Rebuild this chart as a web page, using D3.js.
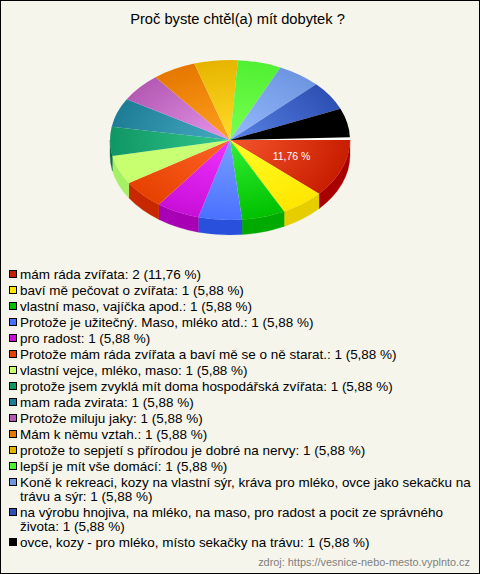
<html>

<head>
    <meta charset="utf-8">
    <title>Proč byste chtěl(a) mít dobytek ?</title>
    <style>
        html, body { margin: 0; padding: 0; background: #f5f5ec; }
        svg { display: block; }
        text { font-family: "Liberation Sans", Arial, sans-serif; }
    </style>
    <script src="https://d3js.org/d3.v7.min.js"></script>
</head>

<body>
    <script>
        var title = "Proč byste chtěl(a) mít dobytek ?";
        var source = "zdroj: https://vesnice-nebo-mesto.vyplnto.cz";

        var categories = [
            "mám ráda zvířata",
            "baví mě pečovat o zvířata",
            "vlastní maso, vajíčka apod.",
            "Protože je užitečný. Maso, mléko atd.",
            "pro radost",
            "Protože mám ráda zvířata a baví mě se o ně starat.",
            "vlastní vejce, mléko, maso",
            "protože jsem zvyklá mít doma hospodářská zvířata",
            "mam rada zvirata",
            "Protože miluju jaky",
            "Mám k němu vztah.",
            "protože to sepjetí s přírodou je dobré na nervy",
            "lepší je mít vše domácí",
            "Koně k rekreaci, kozy na vlastní sýr, kráva pro mléko, ovce jako sekačku na trávu a sýr",
            "na výrobu hnojiva, na mléko, na maso, pro radost a pocit ze správného života",
            "ovce, kozy - pro mléko, místo sekačky na trávu"
        ];
        var counts = [2, 1, 1, 1, 1, 1, 1, 1, 1, 1, 1, 1, 1, 1, 1, 1];
        var percents = ["11,76", "5,88", "5,88", "5,88", "5,88", "5,88", "5,88", "5,88", "5,88", "5,88", "5,88", "5,88", "5,88", "5,88", "5,88", "5,88"];

        // barvy: okraj, stred, bok
        var colors = ["#c81e00", "#ffe600", "#00c000", "#4a70ff", "#c80fd8", "#e64100", "#c8ff6e", "#0f9664", "#1e7d96", "#b45ab4", "#e67800", "#e6b400", "#50f032", "#6e96e0", "#2d50b4", "#000000"];
        var inner = ["#f5552d", "#ffff28", "#32f032", "#78a0ff", "#f032ff", "#ff6428", "#c8ff78", "#32c88c", "#46aac3", "#e696eb", "#ffa01e", "#ffdc28", "#78ff50", "#96b9ff", "#5a82e6", "#000000"];
        var walls = ["#a80000", "#e6cd00", "#00aa00", "#2850dc", "#a800b4", "#c82800", "#a5f064", "#0a6e46", "#145a6e", "#8c408c", "#b45a00", "#b48c00", "#3cb424", "#5078b4", "#1e3c8c", "#000000"];

        var width = 480, height = 574;
        var cx = 230, cy = 140, rx = 120, ry = 80, depth = 15;
        var sweep = 358 * Math.PI / 180;

        var svg = d3.select("body").append("svg")
            .attr("width", width)
            .attr("height", height);

        // ramecek
        svg.append("rect")
            .attr("x", 0.5).attr("y", 0.5)
            .attr("width", width - 1).attr("height", height - 1)
            .attr("fill", "#f5f5ec")
            .attr("stroke", "#000");

        svg.append("text")
            .attr("x", 237.5).attr("y", 24)
            .attr("text-anchor", "middle")
            .attr("font-size", 14.7)
            .attr("fill", "#000")
            .text(title);

        // d3.arc ma nulu nahore, kolac zacina na 3 hodinach
        var pie = d3.pie().sort(null)
            .startAngle(Math.PI / 2)
            .endAngle(Math.PI / 2 + sweep);
        var piedata = pie(counts);

        var defs = svg.append("defs");
        colors.forEach(function (c, i) {
            var g = defs.append("radialGradient")
                .attr("id", "grad" + i)
                .attr("gradientUnits", "userSpaceOnUse")
                .attr("cx", 0).attr("cy", 0).attr("r", rx);
            g.append("stop").attr("offset", "0%").attr("stop-color", inner[i]);
            g.append("stop").attr("offset", "100%").attr("stop-color", c);
        });

        // bok kolace - jen predni polovina
        function wallPath(a0, a1) {
            var t0 = Math.max(a0 - Math.PI / 2, 0);
            var t1 = Math.min(a1 - Math.PI / 2, Math.PI);
            if (t1 <= t0) return null;
            var x0 = cx + rx * Math.cos(t0), y0 = cy + ry * Math.sin(t0);
            var x1 = cx + rx * Math.cos(t1), y1 = cy + ry * Math.sin(t1);
            return "M" + x0 + "," + y0 +
                "A" + rx + "," + ry + " 0 0 1 " + x1 + "," + y1 +
                "L" + x1 + "," + (y1 + depth) +
                "A" + rx + "," + ry + " 0 0 0 " + x0 + "," + (y0 + depth) + "Z";
        }

        svg.selectAll("path.wall")
            .data(piedata)
            .enter()
            .append("path")
            .attr("class", "wall")
            .attr("fill", function (d, i) { return walls[i]; })
            .attr("stroke", function (d, i) { return walls[i]; })
            .attr("stroke-width", 0.3)
            .attr("d", function (d) { return wallPath(d.startAngle, d.endAngle); });

        var arc = d3.arc().innerRadius(0).outerRadius(rx);

        var face = svg.append("g")
            .attr("transform", "translate(" + cx + "," + cy + ") scale(1," + (ry / rx) + ")");

        // bila mezera mezi poslednim a prvnim dilem
        face.append("path")
            .attr("fill", "#fff")
            .attr("d", arc({ startAngle: Math.PI / 2 + sweep, endAngle: Math.PI / 2 + 2 * Math.PI }));

        face.selectAll("path.slice")
            .data(piedata)
            .enter()
            .append("path")
            .attr("class", "slice")
            .attr("fill", function (d, i) { return "url(#grad" + i + ")"; })
            .attr("d", arc);

        // popisek jen u nejvetsiho dilu
        var labelArc = d3.arc().innerRadius(rx * 0.55).outerRadius(rx * 0.55);
        var c0 = labelArc.centroid(piedata[0]);
        svg.append("text")
            .attr("x", cx + c0[0])
            .attr("y", cy + c0[1] * ry / rx + 4)
            .attr("text-anchor", "middle")
            .attr("font-size", 10.5)
            .attr("fill", "#fff")
            .text(percents[0] + " %");

        // legenda - polozky po 16 px, zalomeny radek po 14 px
        var maxTextWidth = 455;
        var itemH = 16, wrapH = 14;
        var y = 279;
        categories.forEach(function (name, i) {
            var full = name + ": " + counts[i] + " (" + percents[i] + " %)";
            svg.append("rect")
                .attr("x", 9.5).attr("y", y - 8.5)
                .attr("width", 7).attr("height", 7)
                .attr("fill", colors[i])
                .attr("stroke", "#000");

            var t = svg.append("text")
                .attr("x", 20).attr("y", y)
                .attr("font-size", 13.48)
                .attr("fill", "#000");
            var words = full.split(" ");
            var line = "";
            var tspan = t.append("tspan").attr("x", 20);
            words.forEach(function (w) {
                var test = line ? line + " " + w : w;
                tspan.text(test);
                if (tspan.node().getComputedTextLength() > maxTextWidth) {
                    tspan.text(line);
                    y += wrapH;
                    tspan = t.append("tspan").attr("x", 20).attr("y", y).text(w);
                    line = w;
                } else {
                    line = test;
                }
            });
            y += itemH;
        });

        svg.append("text")
            .attr("x", 470).attr("y", 566)
            .attr("text-anchor", "end")
            .attr("font-size", 10.9)
            .attr("fill", "#808080")
            .text(source);
    </script>
</body>

</html>
